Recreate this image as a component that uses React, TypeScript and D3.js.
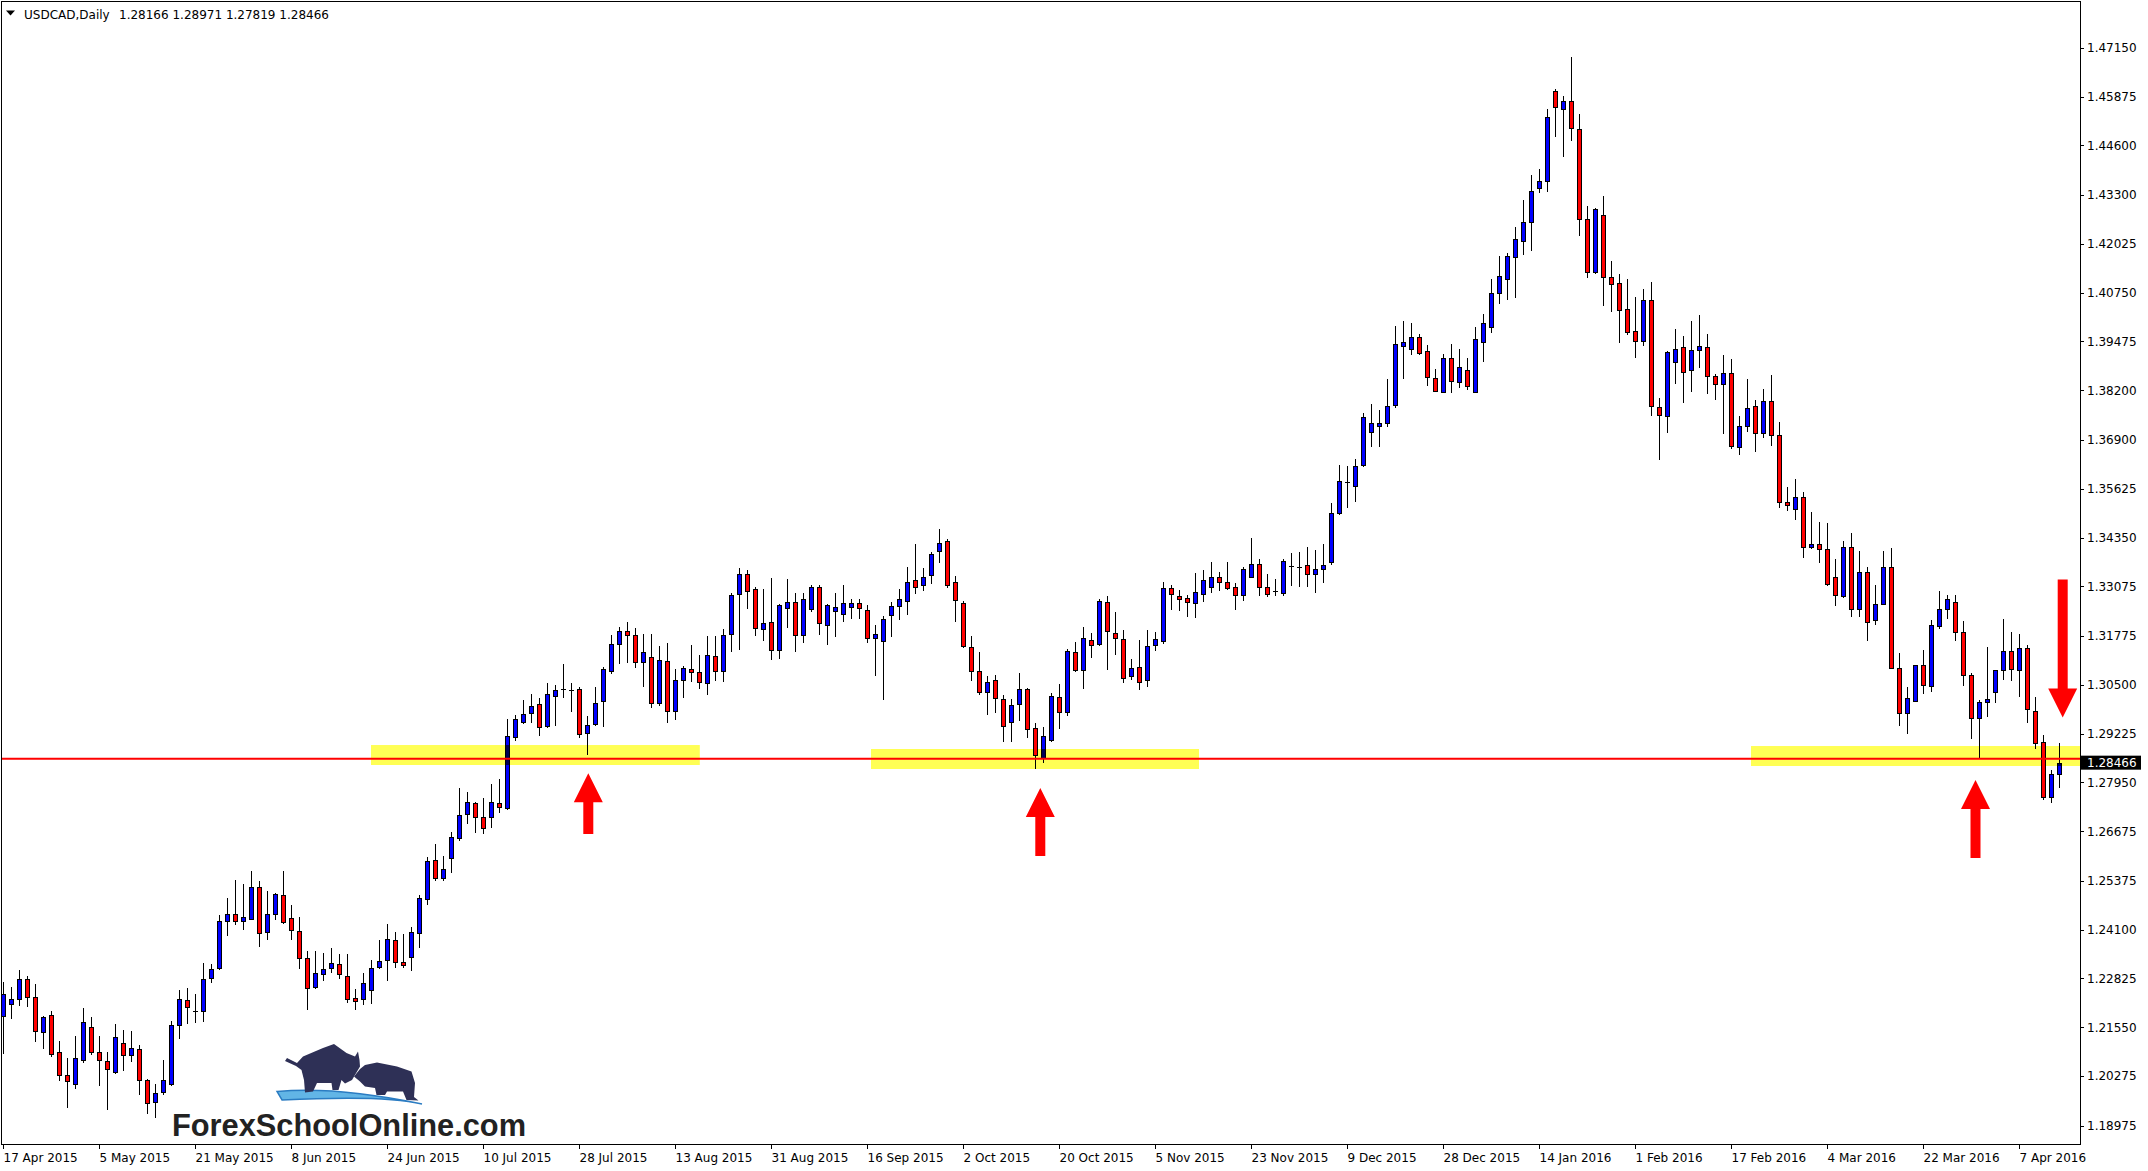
import React from "react";
import * as d3 from "d3";

// USDCAD daily, 17 Apr 2015 .. 13 Apr 2016
const opens = [
  1.2184, 1.2215, 1.2228, 1.2282, 1.2235, 1.2143, 1.2187, 1.2090, 1.2030, 1.2006,
  1.2069, 1.2155, 1.2090, 1.2066, 1.2038, 1.2113, 1.2082, 1.2098, 1.2017, 1.1960,
  1.1986, 1.2006, 1.2160, 1.2226, 1.2197, 1.2198, 1.2285, 1.2309, 1.2432, 1.2451,
  1.2432, 1.2439, 1.2521, 1.2404, 1.2451, 1.2500, 1.2440, 1.2406, 1.2336, 1.2261,
  1.2295, 1.2310, 1.2320, 1.2288, 1.2232, 1.2229, 1.2253, 1.2312, 1.2332, 1.2383,
  1.2326, 1.2339, 1.2401, 1.2490, 1.2593, 1.2545, 1.2597, 1.2651, 1.2712, 1.2740,
  1.2704, 1.2704, 1.2740, 1.2728, 1.2913, 1.2953, 1.2976, 1.3000, 1.2942, 1.3020,
  1.3040, 1.3037, 1.3039, 1.2923, 1.2948, 1.3007, 1.3087, 1.3156, 1.3192, 1.3179,
  1.3109, 1.3123, 1.3002, 1.3112, 1.2982, 1.3063, 1.3092, 1.3084, 1.3055, 1.3125,
  1.3086, 1.3183, 1.3287, 1.3341, 1.3300, 1.3196, 1.3214, 1.3141, 1.3250, 1.3266,
  1.3180, 1.3249, 1.3306, 1.3206, 1.3242, 1.3235, 1.3253, 1.3263, 1.3245, 1.3172,
  1.3164, 1.3232, 1.3255, 1.3268, 1.3323, 1.3310, 1.3336, 1.3399, 1.3425, 1.3318,
  1.3265, 1.3148, 1.3085, 1.3032, 1.3062, 1.3013, 1.2953, 1.3000, 1.3039, 1.2937,
  1.2858, 1.2906, 1.3019, 1.2980, 1.3136, 1.3088, 1.3167, 1.3156, 1.3266, 1.3185,
  1.3170, 1.3073, 1.3097, 1.3063, 1.3154, 1.3164, 1.3302, 1.3281, 1.3276, 1.3263,
  1.3287, 1.3305, 1.3331, 1.3318, 1.3305, 1.3284, 1.3331, 1.3365, 1.3305, 1.3294,
  1.3290, 1.3360, 1.3358, 1.3362, 1.3340, 1.3353, 1.3370, 1.3499, 1.3580, 1.3570,
  1.3625, 1.3710, 1.3727, 1.3735, 1.3782, 1.3936, 1.3927, 1.3960, 1.3923, 1.3853,
  1.3816, 1.3905, 1.3841, 1.3874, 1.3816, 1.3947, 1.3986, 1.4075, 1.4112, 1.4168,
  1.4211, 1.4260, 1.4348, 1.4367, 1.4601, 1.4554, 1.4577, 1.4502, 1.4267, 1.4128,
  1.4277, 1.4117, 1.4099, 1.4032, 1.3974, 1.3948, 1.4055, 1.3776, 1.3752, 1.3893,
  1.3932, 1.3872, 1.3924, 1.3932, 1.3856, 1.3836, 1.3864, 1.3672, 1.3727, 1.3778,
  1.3708, 1.3793, 1.3702, 1.3529, 1.3509, 1.3542, 1.3410, 1.3417, 1.3404, 1.3331,
  1.3282, 1.3409, 1.3248, 1.3346, 1.3219, 1.3261, 1.3357, 1.3095, 1.2976, 1.3009,
  1.3101, 1.3048, 1.3204, 1.3247, 1.3266, 1.3188, 1.3075, 1.2964, 1.3004, 1.3030,
  1.3088, 1.3139, 1.3088, 1.3146, 1.2981, 1.2900, 1.2758, 1.28166,
];

const highs = [
  1.2274, 1.2261, 1.2306, 1.2288, 1.2269, 1.2184, 1.2197, 1.2119, 1.2074, 1.2132,
  1.2205, 1.2182, 1.2132, 1.2091, 1.2163, 1.2148, 1.2145, 1.2109, 1.2020, 1.2007,
  1.2070, 1.2171, 1.2252, 1.2257, 1.2243, 1.2322, 1.2320, 1.2449, 1.2493, 1.2540,
  1.2530, 1.2563, 1.2537, 1.2511, 1.2505, 1.2563, 1.2474, 1.2443, 1.2354, 1.2355,
  1.2349, 1.2362, 1.2346, 1.2346, 1.2254, 1.2297, 1.2332, 1.2384, 1.2425, 1.2403,
  1.2399, 1.2416, 1.2501, 1.2600, 1.2634, 1.2603, 1.2666, 1.2780, 1.2770, 1.2744,
  1.2753, 1.2792, 1.2805, 1.2961, 1.2971, 1.3011, 1.3027, 1.3015, 1.3054, 1.3049,
  1.3105, 1.3055, 1.3044, 1.2969, 1.3044, 1.3096, 1.3179, 1.3202, 1.3213, 1.3199,
  1.3184, 1.3183, 1.3152, 1.3160, 1.3092, 1.3100, 1.3155, 1.3129, 1.3178, 1.3178,
  1.3196, 1.3289, 1.3356, 1.3350, 1.3305, 1.3301, 1.3329, 1.3262, 1.3327, 1.3289,
  1.3289, 1.3310, 1.3311, 1.3262, 1.3289, 1.3311, 1.3274, 1.3274, 1.3259, 1.3207,
  1.3229, 1.3266, 1.3301, 1.3358, 1.3418, 1.3355, 1.3397, 1.3457, 1.3431, 1.3334,
  1.3268, 1.3177, 1.3136, 1.3073, 1.3076, 1.3023, 1.3013, 1.3080, 1.3042, 1.2950,
  1.2940, 1.3029, 1.3051, 1.3144, 1.3162, 1.3201, 1.3186, 1.3274, 1.3281, 1.3240,
  1.3193, 1.3118, 1.3167, 1.3193, 1.3188, 1.3318, 1.3310, 1.3297, 1.3284, 1.3342,
  1.3349, 1.3370, 1.3344, 1.3370, 1.3315, 1.3357, 1.3435, 1.3378, 1.3339, 1.3326,
  1.3380, 1.3395, 1.3397, 1.3410, 1.3402, 1.3417, 1.3525, 1.3624, 1.3621, 1.3640,
  1.3760, 1.3784, 1.3768, 1.3849, 1.3987, 1.4002, 1.3995, 1.3966, 1.3938, 1.3875,
  1.3916, 1.3940, 1.3928, 1.3904, 1.3985, 1.4018, 1.4111, 1.4170, 1.4179, 1.4247,
  1.4317, 1.4382, 1.4398, 1.4555, 1.4608, 1.4590, 1.4690, 1.4541, 1.4301, 1.4295,
  1.4327, 1.4157, 1.4124, 1.4110, 1.4063, 1.4084, 1.4102, 1.3799, 1.3922, 1.3980,
  1.3962, 1.4001, 1.4017, 1.3967, 1.3863, 1.3912, 1.3901, 1.3752, 1.3850, 1.3795,
  1.3823, 1.3860, 1.3736, 1.3567, 1.3588, 1.3553, 1.3501, 1.3475, 1.3473, 1.3378,
  1.3425, 1.3446, 1.3399, 1.3357, 1.3310, 1.3401, 1.3408, 1.3133, 1.3044, 1.3103,
  1.3140, 1.3219, 1.3296, 1.3285, 1.3285, 1.3218, 1.3082, 1.3011, 1.3149, 1.3090,
  1.3221, 1.3188, 1.3183, 1.3155, 1.3019, 1.2920, 1.2828, 1.28971,
];

const lows = [
  1.2089, 1.2180, 1.2213, 1.2211, 1.2119, 1.2102, 1.2081, 1.2016, 1.1946, 1.1997,
  1.2064, 1.2086, 1.2003, 1.1941, 1.2035, 1.2044, 1.2067, 1.1980, 1.1930, 1.1920,
  1.1981, 1.2003, 1.2128, 1.2167, 1.2170, 1.2172, 1.2274, 1.2308, 1.2395, 1.2424,
  1.2411, 1.2438, 1.2367, 1.2385, 1.2437, 1.2428, 1.2385, 1.2309, 1.2204, 1.2258,
  1.2278, 1.2299, 1.2284, 1.2222, 1.2203, 1.2216, 1.2219, 1.2310, 1.2278, 1.2312,
  1.2312, 1.2304, 1.2364, 1.2477, 1.2539, 1.2539, 1.2562, 1.2645, 1.2688, 1.2666,
  1.2664, 1.2679, 1.2717, 1.2725, 1.2905, 1.2950, 1.2952, 1.2918, 1.2940, 1.2946,
  1.3018, 1.2981, 1.2914, 1.2868, 1.2945, 1.2943, 1.3080, 1.3108, 1.3110, 1.3096,
  1.3047, 1.2992, 1.2997, 1.2953, 1.2961, 1.3018, 1.3060, 1.3041, 1.3026, 1.3062,
  1.3060, 1.3138, 1.3144, 1.3252, 1.3179, 1.3166, 1.3117, 1.3119, 1.3200, 1.3138,
  1.3161, 1.3244, 1.3184, 1.3156, 1.3177, 1.3216, 1.3224, 1.3226, 1.3162, 1.3075,
  1.3014, 1.3177, 1.3221, 1.3234, 1.3291, 1.3297, 1.3317, 1.3372, 1.3307, 1.3218,
  1.3150, 1.3063, 1.3025, 1.2973, 1.2980, 1.2902, 1.2902, 1.2957, 1.2913, 1.2832,
  1.2849, 1.2903, 1.2937, 1.2972, 1.3086, 1.3041, 1.3122, 1.3153, 1.3091, 1.3131,
  1.3057, 1.3066, 1.3040, 1.3047, 1.3141, 1.3159, 1.3248, 1.3245, 1.3231, 1.3227,
  1.3268, 1.3292, 1.3297, 1.3300, 1.3248, 1.3271, 1.3331, 1.3284, 1.3281, 1.3284,
  1.3285, 1.3312, 1.3309, 1.3309, 1.3293, 1.3318, 1.3367, 1.3497, 1.3514, 1.3531,
  1.3623, 1.3675, 1.3673, 1.3727, 1.3777, 1.3853, 1.3914, 1.3916, 1.3834, 1.3818,
  1.3815, 1.3816, 1.3829, 1.3822, 1.3816, 1.3897, 1.3972, 1.4049, 1.4058, 1.4064,
  1.4176, 1.4187, 1.4337, 1.4341, 1.4485, 1.4431, 1.4475, 1.4226, 1.4115, 1.4126,
  1.4043, 1.4028, 1.3947, 1.3968, 1.3907, 1.3937, 1.3756, 1.3639, 1.3710, 1.3840,
  1.3788, 1.3819, 1.3882, 1.3814, 1.3798, 1.3707, 1.3669, 1.3654, 1.3714, 1.3662,
  1.3697, 1.3678, 1.3515, 1.3506, 1.3483, 1.3385, 1.3408, 1.3372, 1.3312, 1.3259,
  1.3280, 1.3229, 1.3231, 1.3168, 1.3210, 1.3260, 1.3093, 1.2944, 1.2923, 1.3008,
  1.3028, 1.3035, 1.3199, 1.3225, 1.3168, 1.3050, 1.2912, 1.2858, 1.2969, 1.3004,
  1.3066, 1.3063, 1.3021, 1.2952, 1.2886, 1.2751, 1.2745, 1.27819,
];

const closes = [
  1.2243, 1.2230, 1.2280, 1.2235, 1.2144, 1.2182, 1.2085, 1.2030, 1.2014, 1.2074,
  1.2168, 1.2091, 1.2069, 1.2045, 1.2129, 1.2082, 1.2100, 1.2017, 1.1957, 1.1983,
  1.2017, 1.2160, 1.2230, 1.2209, 1.2198, 1.2282, 1.2308, 1.2432, 1.2451, 1.2432,
  1.2443, 1.2521, 1.2401, 1.2451, 1.2503, 1.2430, 1.2409, 1.2336, 1.2258, 1.2297,
  1.2308, 1.2323, 1.2294, 1.2229, 1.2223, 1.2271, 1.2310, 1.2329, 1.2385, 1.2326,
  1.2318, 1.2404, 1.2492, 1.2590, 1.2545, 1.2568, 1.2652, 1.2709, 1.2745, 1.2705,
  1.2675, 1.2743, 1.2730, 1.2916, 1.2961, 1.2974, 1.2994, 1.2940, 1.3026, 1.3036,
  1.3040, 1.3037, 1.2922, 1.2946, 1.3002, 1.3091, 1.3156, 1.3190, 1.3179, 1.3109,
  1.3135, 1.3003, 1.3115, 1.2982, 1.3063, 1.3094, 1.3084, 1.3058, 1.3128, 1.3086,
  1.3180, 1.3284, 1.3339, 1.3294, 1.3198, 1.3211, 1.3141, 1.3259, 1.3266, 1.3180,
  1.3274, 1.3306, 1.3211, 1.3259, 1.3253, 1.3263, 1.3263, 1.3250, 1.3172, 1.3183,
  1.3222, 1.3256, 1.3274, 1.3320, 1.3305, 1.3331, 1.3393, 1.3422, 1.3310, 1.3271,
  1.3152, 1.3087, 1.3032, 1.3057, 1.3015, 1.2942, 1.2997, 1.3039, 1.2935, 1.2867,
  1.2916, 1.3021, 1.2980, 1.3138, 1.3088, 1.3172, 1.3153, 1.3268, 1.3190, 1.3172,
  1.3068, 1.3094, 1.3058, 1.3151, 1.3170, 1.3302, 1.3287, 1.3274, 1.3266, 1.3292,
  1.3323, 1.3331, 1.3320, 1.3302, 1.3284, 1.3352, 1.3365, 1.3305, 1.3287, 1.3294,
  1.3374, 1.3360, 1.3358, 1.3340, 1.3354, 1.3362, 1.3498, 1.3584, 1.3580, 1.3623,
  1.3751, 1.3734, 1.3734, 1.3780, 1.3940, 1.3947, 1.3960, 1.3918, 1.3854, 1.3819,
  1.3903, 1.3843, 1.3882, 1.3832, 1.3953, 1.3997, 1.4075, 1.4118, 1.4172, 1.4214,
  1.4261, 1.4342, 1.4368, 1.4533, 1.4560, 1.4577, 1.4505, 1.4267, 1.4128, 1.4293,
  1.4117, 1.4097, 1.4029, 1.3972, 1.3948, 1.4055, 1.3780, 1.3754, 1.3919, 1.3927,
  1.3867, 1.3924, 1.3935, 1.3856, 1.3836, 1.3864, 1.3673, 1.3727, 1.3773, 1.3708,
  1.3793, 1.3702, 1.3529, 1.3519, 1.3542, 1.3410, 1.3417, 1.3404, 1.3313, 1.3284,
  1.3409, 1.3248, 1.3346, 1.3214, 1.3261, 1.3357, 1.3095, 1.2976, 1.3015, 1.3101,
  1.3049, 1.3206, 1.3248, 1.3274, 1.3188, 1.3075, 1.2964, 1.3004, 1.3012, 1.3088,
  1.3139, 1.3091, 1.3146, 1.2988, 1.2898, 1.2758, 1.2816, 1.28466,
];

const dateLabels = [
  "17 Apr 2015", "5 May 2015", "21 May 2015", "8 Jun 2015", "24 Jun 2015", "10 Jul 2015",
  "28 Jul 2015", "13 Aug 2015", "31 Aug 2015", "16 Sep 2015", "2 Oct 2015", "20 Oct 2015",
  "5 Nov 2015", "23 Nov 2015", "9 Dec 2015", "28 Dec 2015", "14 Jan 2016", "1 Feb 2016",
  "17 Feb 2016", "4 Mar 2016", "22 Mar 2016", "7 Apr 2016",
];
const dateLabelBars = [0, 12, 24, 36, 48, 60, 72, 84, 96, 108, 120, 132, 144, 156, 168, 180, 192, 204, 216, 228, 240, 252];

const priceTicks = [
  1.4715, 1.45875, 1.446, 1.433, 1.42025, 1.4075, 1.39475, 1.382, 1.369, 1.35625, 1.3435, 1.33075,
  1.31775, 1.305, 1.29225, 1.2795, 1.26675, 1.25375, 1.241, 1.22825, 1.2155, 1.20275, 1.18975,
];

const symbolTitle = "USDCAD,Daily";
const headerValues = "1.28166 1.28971 1.27819 1.28466";
const bidPrice = 1.28466;
const supportLevel = 1.28569;

// support zones: bar range and price band
const zoneFrom = [46, 108.5, 218.5];
const zoneTo = [87.1, 149.5, 260];
const zoneTop = [1.28927, 1.28823, 1.28901];
const zoneBottom = [1.28405, 1.283, 1.28379];

// arrows: bar position, price at the tip, price at the tail
const arrowBars = [73.1, 129.6, 246.5, 257.4];
const arrowTips = [1.28188, 1.27803, 1.28013, 1.29644];
const arrowTails = [1.26601, 1.26026, 1.25974, 1.33253];

const W = 2148;
const H = 1171;
const plot = { left: 1.5, top: 1.5, right: 2080.5, bottom: 1144.5 };
const FONT = "'DejaVu Sans', Verdana, sans-serif";

export default function App() {
  const x = d3.scaleLinear().domain([0, 257]).range([3.5, 3.5 + 257 * 8]);
  const y = d3.scaleLinear().domain([1.4715, 1.18975]).range([47.8, 1125.8]);
  const snap = (v: number) => Math.round(v) + 0.5;

  const candles = opens.map((o, i) => {
    const c = closes[i];
    const cx = x(i);
    const yTop = snap(y(Math.max(o, c)));
    const yBot = snap(y(Math.min(o, c)));
    const hi = snap(y(highs[i]));
    const lo = snap(y(lows[i]));
    const fill = c > o ? "#0000ff" : "#ff0000";
    return (
      <g key={i}>
        <line x1={cx} x2={cx} y1={hi - 0.5} y2={lo + 0.5} stroke="#000" strokeWidth={1} />
        {yBot - yTop < 1 ? (
          <line x1={cx - 2.5} x2={cx + 2.5} y1={yTop} y2={yTop} stroke="#000" strokeWidth={1} />
        ) : (
          <rect x={cx - 2} y={yTop} width={4} height={yBot - yTop} fill={fill} stroke="#000" strokeWidth={1} />
        )}
      </g>
    );
  });

  const arrowPath = (i: number) => {
    const cx = x(arrowBars[i]);
    const tip = y(arrowTips[i]);
    const tail = y(arrowTails[i]);
    const dir = tail > tip ? 1 : -1;
    const base = tip + dir * 29;
    const pts: [number, number][] = [
      [cx, tip], [cx + 14.5, base], [cx + 5, base], [cx + 5, tail],
      [cx - 5, tail], [cx - 5, base], [cx - 14.5, base],
    ];
    return d3.line()(pts) + "Z";
  };

  return (
    <div style={{ position: "absolute", left: 0, top: 0, width: W, height: H, background: "#fff" }}>
      <svg width={W} height={H} style={{ display: "block" }} fontFamily={FONT}>
        <defs>
          <clipPath id="plotClip">
            <rect x={2} y={2} width={2078} height={1142} />
          </clipPath>
        </defs>
        <rect x={0} y={0} width={W} height={H} fill="#fff" />

        <g clipPath="url(#plotClip)">
          {candles}
          <line x1={0} x2={2080} y1={y(supportLevel)} y2={y(supportLevel)} stroke="#ff0000" strokeWidth={2} />
          {zoneFrom.map((f, i) => (
            <rect
              key={i}
              x={x(f) - 0.5}
              y={y(zoneTop[i])}
              width={x(zoneTo[i]) - x(f)}
              height={y(zoneBottom[i]) - y(zoneTop[i])}
              fill="#ffff55"
              style={{ mixBlendMode: "multiply" }}
            />
          ))}
          {arrowBars.map((_, i) => (
            <path key={i} d={arrowPath(i)} fill="#ff0000" />
          ))}
        </g>

        {/* frame */}
        <rect x={plot.left} y={plot.top} width={plot.right - plot.left} height={plot.bottom - plot.top}
          fill="none" stroke="#000" strokeWidth={1} />

        {/* header */}
        <path d="M6,10.5 L15,10.5 L10.5,15.5 Z" fill="#000" />
        <text x={24} y={18.5} fontSize={12} fill="#000">{symbolTitle}</text>
        <text x={119} y={18.5} fontSize={12} fill="#000">{headerValues}</text>

        {/* price axis */}
        {priceTicks.map((p) => (
          <g key={p}>
            <line x1={2080} x2={2084} y1={snap(y(p))} y2={snap(y(p))} stroke="#000" />
            <text x={2087} y={y(p)} dy="0.36em" fontSize={12} fill="#000">{p.toFixed(5)}</text>
          </g>
        ))}
        <rect x={2081} y={y(bidPrice) - 7} width={60} height={14} fill="#000" />
        <text x={2087} y={y(bidPrice)} dy="0.36em" fontSize={12} fill="#fff">{bidPrice.toFixed(5)}</text>

        {/* time axis */}
        {dateLabels.map((d, i) => {
          const tx = x(dateLabelBars[i]);
          return (
            <g key={d}>
              <line x1={tx} x2={tx} y1={1144} y2={1149} stroke="#000" />
              <text x={tx} y={1161.5} fontSize={12} fill="#000">{d}</text>
            </g>
          );
        })}

        {/* watermark logo */}
        <g>
          <path
            d="M277,1091.5 Q336,1086 422,1104 Q385,1095 282,1100 Z"
            fill="#62b5e6" stroke="#2b7cc2" strokeWidth={1.5}
          />
          <path
            d="M285,1061 L287,1058 L297,1063 L303,1056.5 L323,1048 L334,1044 L346.5,1053 L355,1056.5 L358,1051.5 L359.5,1060 L360,1066.5 L352,1080 L345,1083.5 L341.5,1080 L338.5,1090 L332.5,1090 L331.5,1083 L317,1083 L313,1091.5 L305,1092.5 L304,1080 L301.5,1070 L296,1066 Z"
            fill="#2e3056"
          />
          <path
            d="M354,1076.5 L360,1069 L365,1065 L377,1062.5 L397,1066.5 L411.5,1071.5 L415,1083 L414,1097 L418.5,1100.5 L406.5,1100 L403,1091.5 L387,1091.5 L385,1095 L376.5,1095 L375,1088 L365,1086.5 L360,1081.5 Z"
            fill="#2e3056"
          />
          <text x={172} y={1136} fontSize={31} fontWeight="bold" fill="#222"
            fontFamily="'Liberation Sans', Arial, sans-serif"
            textLength={354} lengthAdjust="spacingAndGlyphs">
            ForexSchoolOnline.com
          </text>
        </g>
      </svg>
    </div>
  );
}
